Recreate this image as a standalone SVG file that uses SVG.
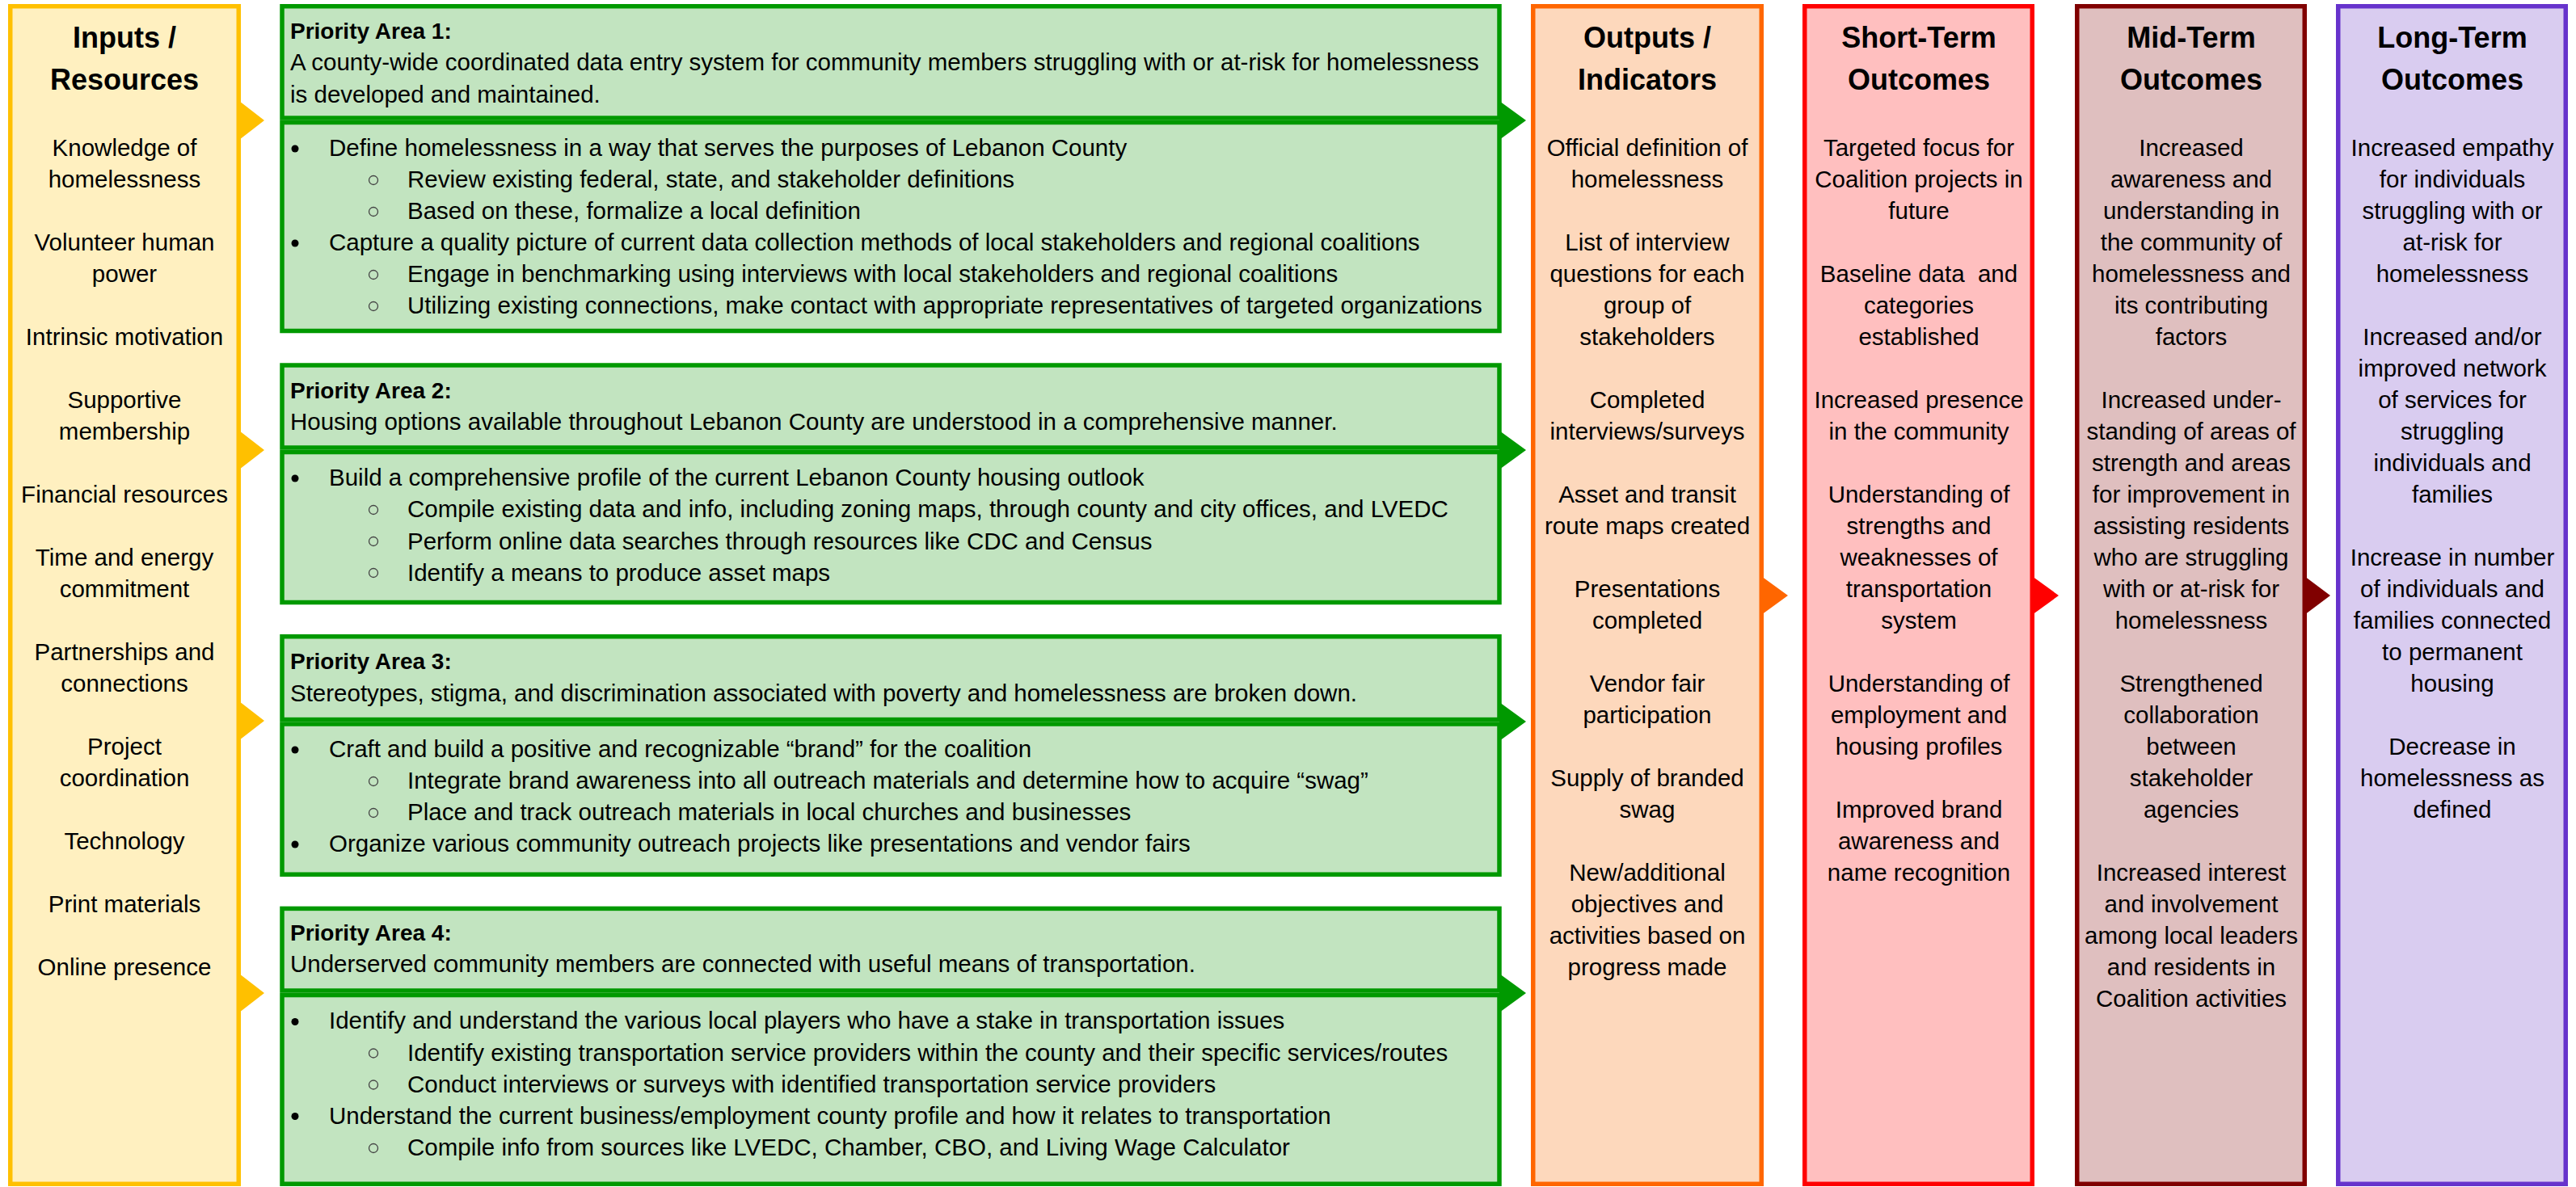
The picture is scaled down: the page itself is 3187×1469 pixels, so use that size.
<svg xmlns="http://www.w3.org/2000/svg" width="3187" height="1469" viewBox="0 0 3187 1469">
<style>
text{font-family:"Liberation Sans",Arial,sans-serif;font-size:29.5px;fill:#000;white-space:pre}
.c{text-anchor:middle}
.h{font-weight:bold;font-size:36px}
.pa{font-weight:bold;font-size:28px}
.box{stroke-width:5.5}
.yel{fill:#FFF0C0;stroke:#FFC000}
.grn{fill:#C2E4C0;stroke:#009900}
.org{fill:#FDD8BC;stroke:#FF6600}
.red{fill:#FFBFBF;stroke:#FF0000}
.drd{fill:#DFBFBF;stroke:#800000}
.pur{fill:#D9CCF0;stroke:#6633CC}
.b1{fill:#000}
.b2{fill:none;stroke:#444;stroke-width:1.3}
</style>
<rect width="3187" height="1469" fill="#FFFFFF"/>

<g id="inputs">
<rect class="box yel" x="12.75" y="7.75" width="282.5" height="1457.5"/>
<text class="h c" x="154" y="59">Inputs /</text>
<text class="h c" x="154" y="111">Resources</text>
<text class="c"><tspan x="154" y="193">Knowledge of</tspan><tspan x="154" y="232">homelessness</tspan><tspan x="154" y="310">Volunteer human</tspan><tspan x="154" y="349">power</tspan><tspan x="154" y="427">Intrinsic motivation</tspan><tspan x="154" y="505">Supportive</tspan><tspan x="154" y="544">membership</tspan><tspan x="154" y="622">Financial resources</tspan><tspan x="154" y="700">Time and energy</tspan><tspan x="154" y="739">commitment</tspan><tspan x="154" y="817">Partnerships and</tspan><tspan x="154" y="856">connections</tspan><tspan x="154" y="934">Project</tspan><tspan x="154" y="973">coordination</tspan><tspan x="154" y="1051">Technology</tspan><tspan x="154" y="1129">Print materials</tspan><tspan x="154" y="1207">Online presence</tspan></text>
</g>

<g id="priority1">
<rect class="box grn" x="349" y="7.75" width="1506" height="138.3"/>
<rect class="box grn" x="349" y="151.5" width="1506" height="258"/>
<text class="pa" x="359" y="48">Priority Area 1:</text>
<text x="359" y="87">A county-wide coordinated data entry system for community members struggling with or at-risk for homelessness</text>
<text x="359" y="126.5">is developed and maintained.</text>
<circle class="b1" cx="365" cy="184" r="4.5"/>
<text x="407" y="193">Define homelessness in a way that serves the purposes of Lebanon County</text>
<circle class="b2" cx="462" cy="223" r="5.5"/>
<text x="504" y="232">Review existing federal, state, and stakeholder definitions</text>
<circle class="b2" cx="462" cy="262" r="5.5"/>
<text x="504" y="271">Based on these, formalize a local definition</text>
<circle class="b1" cx="365" cy="301" r="4.5"/>
<text x="407" y="310">Capture a quality picture of current data collection methods of local stakeholders and regional coalitions</text>
<circle class="b2" cx="462" cy="340" r="5.5"/>
<text x="504" y="349">Engage in benchmarking using interviews with local stakeholders and regional coalitions</text>
<circle class="b2" cx="462" cy="379" r="5.5"/>
<text x="504" y="388">Utilizing existing connections, make contact with appropriate representatives of targeted organizations</text>
</g>

<g id="priority2">
<rect class="box grn" x="349" y="452" width="1506" height="102"/>
<rect class="box grn" x="349" y="559.5" width="1506" height="186"/>
<text class="pa" x="359" y="492.5">Priority Area 2:</text>
<text x="359" y="531.7">Housing options available throughout Lebanon County are understood in a comprehensive manner.</text>
<circle class="b1" cx="365" cy="592" r="4.5"/>
<text x="407" y="601">Build a comprehensive profile of the current Lebanon County housing outlook</text>
<circle class="b2" cx="462" cy="631" r="5.5"/>
<text x="504" y="640">Compile existing data and info, including zoning maps, through county and city offices, and LVEDC</text>
<circle class="b2" cx="462" cy="670" r="5.5"/>
<text x="504" y="679.5">Perform online data searches through resources like CDC and Census</text>
<circle class="b2" cx="462" cy="709" r="5.5"/>
<text x="504" y="718.5">Identify a means to produce asset maps</text>
</g>

<g id="priority3">
<rect class="box grn" x="349" y="787.75" width="1506" height="102.8"/>
<rect class="box grn" x="349" y="896" width="1506" height="186.2"/>
<text class="pa" x="359" y="828.3">Priority Area 3:</text>
<text x="359" y="867.7">Stereotypes, stigma, and discrimination associated with poverty and homelessness are broken down.</text>
<circle class="b1" cx="365" cy="928" r="4.5"/>
<text x="407" y="936.7">Craft and build a positive and recognizable “brand” for the coalition</text>
<circle class="b2" cx="462" cy="967" r="5.5"/>
<text x="504" y="976">Integrate brand awareness into all outreach materials and determine how to acquire “swag”</text>
<circle class="b2" cx="462" cy="1006" r="5.5"/>
<text x="504" y="1015">Place and track outreach materials in local churches and businesses</text>
<circle class="b1" cx="365" cy="1045" r="4.5"/>
<text x="407" y="1054.3">Organize various community outreach projects like presentations and vendor fairs</text>
</g>

<g id="priority4">
<rect class="box grn" x="349" y="1124.4" width="1506" height="101.6"/>
<rect class="box grn" x="349" y="1231.5" width="1506" height="233.7"/>
<text class="pa" x="359" y="1164.3">Priority Area 4:</text>
<text x="359" y="1203.3">Underserved community members are connected with useful means of transportation.</text>
<circle class="b1" cx="365" cy="1264.5" r="4.5"/>
<text x="407" y="1273.3">Identify and understand the various local players who have a stake in transportation issues</text>
<circle class="b2" cx="462" cy="1303.5" r="5.5"/>
<text x="504" y="1312.5">Identify existing transportation service providers within the county and their specific services/routes</text>
<circle class="b2" cx="462" cy="1342.5" r="5.5"/>
<text x="504" y="1351.7">Conduct interviews or surveys with identified transportation service providers</text>
<circle class="b1" cx="365" cy="1381.5" r="4.5"/>
<text x="407" y="1390.7">Understand the current business/employment county profile and how it relates to transportation</text>
<circle class="b2" cx="462" cy="1421" r="5.5"/>
<text x="504" y="1430">Compile info from sources like LVEDC, Chamber, CBO, and Living Wage Calculator</text>
</g>

<g id="outputs">
<rect class="box org" x="1896.75" y="7.75" width="282.5" height="1457.5"/>
<text class="h c" x="2038" y="59">Outputs /</text>
<text class="h c" x="2038" y="111">Indicators</text>
<text class="c"><tspan x="2038" y="193">Official definition of</tspan><tspan x="2038" y="232">homelessness</tspan><tspan x="2038" y="310">List of interview</tspan><tspan x="2038" y="349">questions for each</tspan><tspan x="2038" y="388">group of</tspan><tspan x="2038" y="427">stakeholders</tspan><tspan x="2038" y="505">Completed</tspan><tspan x="2038" y="544">interviews/surveys</tspan><tspan x="2038" y="622">Asset and transit</tspan><tspan x="2038" y="661">route maps created</tspan><tspan x="2038" y="739">Presentations</tspan><tspan x="2038" y="778">completed</tspan><tspan x="2038" y="856">Vendor fair</tspan><tspan x="2038" y="895">participation</tspan><tspan x="2038" y="973">Supply of branded</tspan><tspan x="2038" y="1012">swag</tspan><tspan x="2038" y="1090">New/additional</tspan><tspan x="2038" y="1129">objectives and</tspan><tspan x="2038" y="1168">activities based on</tspan><tspan x="2038" y="1207">progress made</tspan></text>
</g>

<g id="short-term">
<rect class="box red" x="2232.75" y="7.75" width="281.5" height="1457.5"/>
<text class="h c" x="2374" y="59">Short-Term</text>
<text class="h c" x="2374" y="111">Outcomes</text>
<text class="c"><tspan x="2374" y="193">Targeted focus for</tspan><tspan x="2374" y="232">Coalition projects in</tspan><tspan x="2374" y="271">future</tspan><tspan x="2374" y="349">Baseline data  and</tspan><tspan x="2374" y="388">categories</tspan><tspan x="2374" y="427">established</tspan><tspan x="2374" y="505">Increased presence</tspan><tspan x="2374" y="544">in the community</tspan><tspan x="2374" y="622">Understanding of</tspan><tspan x="2374" y="661">strengths and</tspan><tspan x="2374" y="700">weaknesses of</tspan><tspan x="2374" y="739">transportation</tspan><tspan x="2374" y="778">system</tspan><tspan x="2374" y="856">Understanding of</tspan><tspan x="2374" y="895">employment and</tspan><tspan x="2374" y="934">housing profiles</tspan><tspan x="2374" y="1012">Improved brand</tspan><tspan x="2374" y="1051">awareness and</tspan><tspan x="2374" y="1090">name recognition</tspan></text>
</g>

<g id="mid-term">
<rect class="box drd" x="2569.75" y="7.75" width="281.5" height="1457.5"/>
<text class="h c" x="2711" y="59">Mid-Term</text>
<text class="h c" x="2711" y="111">Outcomes</text>
<text class="c"><tspan x="2711" y="193">Increased</tspan><tspan x="2711" y="232">awareness and</tspan><tspan x="2711" y="271">understanding in</tspan><tspan x="2711" y="310">the community of</tspan><tspan x="2711" y="349">homelessness and</tspan><tspan x="2711" y="388">its contributing</tspan><tspan x="2711" y="427">factors</tspan><tspan x="2711" y="505">Increased under-</tspan><tspan x="2711" y="544">standing of areas of</tspan><tspan x="2711" y="583">strength and areas</tspan><tspan x="2711" y="622">for improvement in</tspan><tspan x="2711" y="661">assisting residents</tspan><tspan x="2711" y="700">who are struggling</tspan><tspan x="2711" y="739">with or at-risk for</tspan><tspan x="2711" y="778">homelessness</tspan><tspan x="2711" y="856">Strengthened</tspan><tspan x="2711" y="895">collaboration</tspan><tspan x="2711" y="934">between</tspan><tspan x="2711" y="973">stakeholder</tspan><tspan x="2711" y="1012">agencies</tspan><tspan x="2711" y="1090">Increased interest</tspan><tspan x="2711" y="1129">and involvement</tspan><tspan x="2711" y="1168">among local leaders</tspan><tspan x="2711" y="1207">and residents in</tspan><tspan x="2711" y="1246">Coalition activities</tspan></text>
</g>

<g id="long-term">
<rect class="box pur" x="2892.75" y="7.75" width="281.5" height="1457.5"/>
<text class="h c" x="3034" y="59">Long-Term</text>
<text class="h c" x="3034" y="111">Outcomes</text>
<text class="c"><tspan x="3034" y="193">Increased empathy</tspan><tspan x="3034" y="232">for individuals</tspan><tspan x="3034" y="271">struggling with or</tspan><tspan x="3034" y="310">at-risk for</tspan><tspan x="3034" y="349">homelessness</tspan><tspan x="3034" y="427">Increased and/or</tspan><tspan x="3034" y="466">improved network</tspan><tspan x="3034" y="505">of services for</tspan><tspan x="3034" y="544">struggling</tspan><tspan x="3034" y="583">individuals and</tspan><tspan x="3034" y="622">families</tspan><tspan x="3034" y="700">Increase in number</tspan><tspan x="3034" y="739">of individuals and</tspan><tspan x="3034" y="778">families connected</tspan><tspan x="3034" y="817">to permanent</tspan><tspan x="3034" y="856">housing</tspan><tspan x="3034" y="934">Decrease in</tspan><tspan x="3034" y="973">homelessness as</tspan><tspan x="3034" y="1012">defined</tspan></text>
</g>

<g id="connectors">
<polygon fill="#FFC000" points="296,125 327,149 296,173"/>
<polygon fill="#FFC000" points="296,533 327,557 296,581"/>
<polygon fill="#FFC000" points="296,868 327,892 296,916"/>
<polygon fill="#FFC000" points="296,1205 327,1229 296,1253"/>
<polygon fill="#009900" points="1855,125 1888,149 1855,173"/>
<polygon fill="#009900" points="1855,533 1888,557 1855,581"/>
<polygon fill="#009900" points="1855,869 1888,893 1855,917"/>
<polygon fill="#009900" points="1855,1205 1888,1229 1855,1253"/>
<polygon fill="#FF6600" points="2179,713 2212,737 2179,761"/>
<polygon fill="#FF0000" points="2514,713 2547,737 2514,761"/>
<polygon fill="#800000" points="2851,713 2883,737 2851,761"/>
</g>
</svg>
